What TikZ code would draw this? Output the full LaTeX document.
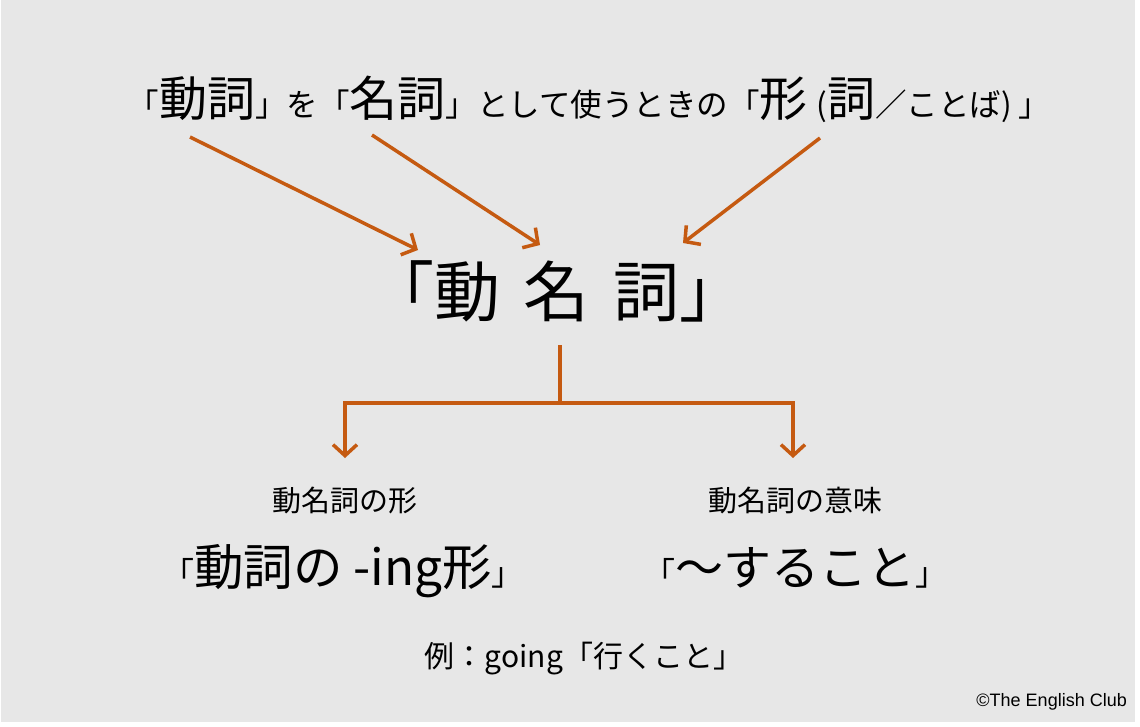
\documentclass[tikz,border=0pt]{standalone}
\usepackage{fontspec}
\setmainfont{Noto Sans CJK JP}
\newfontfamily\latinsans{Liberation Sans}
\usetikzlibrary{arrows.meta}
\definecolor{arrorange}{HTML}{C55A11}
\definecolor{bggray}{HTML}{E7E7E7}
\newcommand\kanji[1]{{\fontsize{48}{48}\selectfont #1}}
\newcommand\brk[1]{{\fontsize{32}{32}\selectfont #1}}

\begin{document}
\begin{tikzpicture}[x=1pt,y=-1pt,inner sep=0pt]
        \tikzstyle{conn}=[draw=arrorange,line width=3.5pt]
        \tikzstyle{arr}=[conn,-{Straight Barb[length=11pt,width=24pt]}]
        \useasboundingbox (0,0) rectangle (1140,726);
        \fill[bggray] (1,0) rectangle (1135,722);
        % top line and the word
        \node[anchor=base] (Ttl) at (589,116) {\fontsize{31.5}{33}\selectfont 「\kanji{動詞}」を「\kanji{名詞}」として使うときの「\kanji{形} \hspace{2pt}(\kanji{詞}／ことば) 」};
        \node[anchor=base] (Gn) at (557,316) {\fontsize{66}{66}\selectfont 「動\hspace{24pt}名\hspace{24pt}詞」};
        \coordinate (Sv) at (190,137);
        \coordinate (Sn) at (372,135);
        \coordinate (Sk) at (820,138);
        \coordinate (Ev) at (418,250);
        \coordinate (En) at (540,245);
        \coordinate (Ek) at (683,243);
        \draw[arr] (Sv) -- (Ev);
        \draw[arr] (Sn) -- (En);
        \draw[arr] (Sk) -- (Ek);
        % the two branches
        \node[anchor=base] (Fh) at (345,511) {\fontsize{29}{30}\selectfont 動名詞の形};
        \node[anchor=base] (Im) at (795,511) {\fontsize{29}{30}\selectfont 動名詞の意味};
        \node[anchor=base] (Fx) at (343,585) {\brk{「}{\fontsize{49.5}{50}\selectfont 動詞の -ing形}\brk{」}};
        \node[anchor=base] (Sr) at (795,585) {\brk{「}\kanji{〜すること}\brk{」}};
        \coordinate (Tp) at (560,345);
        \coordinate (Jn) at (560,403);
        \coordinate (Lt) at (345,458);
        \coordinate (Rt) at (793,458);
        \draw[conn] (Tp) -- (Jn);
        \draw[arr] (Jn) -| (Lt);
        \draw[arr] (Jn) -| (Rt);
        % example and credit
        \node[anchor=base] (Ex) at (584,667) {\fontsize{30}{32}\selectfont 例：going「行くこと」};
        \node[anchor=base east] (Cr) at (1127,706) {\latinsans\fontsize{18}{18}\selectfont ©The English Club};
    \end{tikzpicture}
\end{document}
